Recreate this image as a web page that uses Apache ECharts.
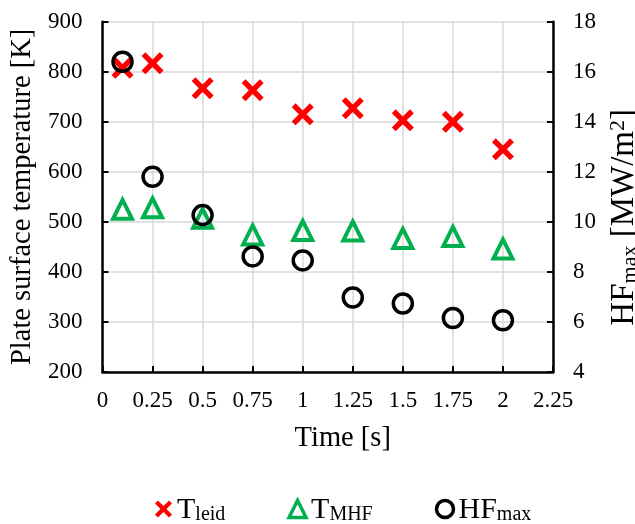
<!DOCTYPE html>
<html>
<head>
<meta charset="utf-8">
<script src="https://cdn.jsdelivr.net/npm/echarts@6/dist/echarts.min.js"></script>
<style>
  html, body { margin: 0; padding: 0; background: #fff; }
  #chart { width: 635px; height: 524px; }
</style>
</head>
<body>
<div id="chart"></div>
<script>
// Measurement times [s]
const timeS = [0.1, 0.25, 0.5, 0.75, 1, 1.25, 1.5, 1.75, 2];
// Leidenfrost temperature [K]
const tLeid = [808, 817, 767, 763, 715, 727, 703, 700, 645];
// Temperature at maximum heat flux [K]
const tMhf = [525, 528, 507, 474, 483, 482, 467, 471, 446];
// Maximum heat flux [MW/m2]
const hfMax = [16.4, 11.8, 10.27, 8.62, 8.46, 6.98, 6.74, 6.16, 6.07];

const pairs = (xs, ys) => xs.map((x, i) => [x, ys[i]]);

const FONT = '"Liberation Serif", "Times New Roman", serif';
const CROSS = 'path://M0,3.5 L3.5,0 L10,6.5 L16.5,0 L20,3.5 L13.5,10 L20,16.5 L16.5,20 L10,13.5 L3.5,20 L0,16.5 L6.5,10 Z';
const RED = '#ff0000', GREEN = '#00b050', BLACK = '#000000';

const axisLine = { show: true, lineStyle: { color: BLACK, width: 2.5 } };
const axisTick = { show: true, inside: true, length: 6, lineStyle: { color: BLACK, width: 2 } };
const tickFont = { fontFamily: FONT, fontSize: 23, color: BLACK };
const grid = { show: true, lineStyle: { color: '#d9d9d9', width: 1.5 } };

const chart = echarts.init(document.getElementById('chart'), null, { renderer: 'canvas' });

chart.setOption({
  backgroundColor: '#ffffff',
  animation: false,
  grid: { left: 102.5, right: 82, top: 21.7, bottom: 152, containLabel: false, outerBoundsMode: 'none' },
  xAxis: {
    type: 'value', min: 0, max: 2.25, interval: 0.25,
    name: 'Time [s]', nameLocation: 'middle', nameGap: 52,
    nameTextStyle: { fontFamily: FONT, fontSize: 28.5, color: BLACK, padding: [0, 0, 0, 30] },
    axisLine, axisTick,
    axisLabel: Object.assign({ margin: 17 }, tickFont),
    splitLine: grid
  },
  yAxis: [
    {
      type: 'value', min: 200, max: 900, interval: 100, position: 'left',
      name: 'Plate surface temperature [K]', nameLocation: 'middle', nameGap: 64,
      nameTextStyle: { fontFamily: FONT, fontSize: 28.5, color: BLACK },
      axisLine, axisTick,
      axisLabel: Object.assign({ margin: 20 }, tickFont),
      splitLine: grid
    },
    {
      type: 'value', min: 4, max: 18, interval: 2, position: 'right',
      name: '{m|HF}{s|max}{m| [MW/m}{p|2}{m|]}', nameLocation: 'middle', nameGap: 52, nameRotate: 90,
      nameTextStyle: {
        fontFamily: FONT, fontSize: 33, color: BLACK, padding: [0, 41, 0, 0],
        rich: {
          m: { fontFamily: FONT, fontSize: 33, color: BLACK, lineHeight: 34, verticalAlign: 'bottom' },
          s: { fontFamily: FONT, fontSize: 22, color: BLACK, lineHeight: 8, verticalAlign: 'bottom' },
          p: { fontFamily: FONT, fontSize: 22, color: BLACK, lineHeight: 12, verticalAlign: 'top' }
        }
      },
      axisLine, axisTick,
      axisLabel: Object.assign({ margin: 20 }, tickFont),
      splitLine: { show: false }
    }
  ],
  legend: {
    top: 490, left: 150, itemGap: 62, itemWidth: 17, itemHeight: 17,
    textStyle: {
      fontFamily: FONT, fontSize: 30, color: BLACK,
      rich: {
        m: { fontFamily: FONT, fontSize: 30, color: BLACK, lineHeight: 32, verticalAlign: 'bottom' },
        s: { fontFamily: FONT, fontSize: 20, color: BLACK, lineHeight: 8, verticalAlign: 'bottom' }
      }
    },
    formatter: (name) => ({
      'T_leid': '{m|T}{s|leid}',
      'T_MHF': '{m|T}{s|MHF}',
      'HF_max': '{m|HF}{s|max}'
    })[name],
    data: [
      { name: 'T_leid', icon: CROSS, itemStyle: { color: RED, borderWidth: 0 } },
      { name: 'T_MHF', icon: 'triangle', itemStyle: { color: 'rgba(0,0,0,0)', borderColor: GREEN, borderWidth: 3.5 } },
      { name: 'HF_max', icon: 'circle', itemStyle: { color: 'rgba(0,0,0,0)', borderColor: BLACK, borderWidth: 3.5 } }
    ]
  },
  series: [
    {
      name: 'T_leid', type: 'scatter', yAxisIndex: 0,
      symbol: CROSS, symbolSize: 22,
      itemStyle: { color: RED, opacity: 1 },
      data: pairs(timeS, tLeid)
    },
    {
      name: 'T_MHF', type: 'scatter', yAxisIndex: 0,
      symbol: 'triangle', symbolSize: 19,
      itemStyle: { color: 'rgba(0,0,0,0)', borderColor: GREEN, borderWidth: 4, opacity: 1 },
      data: pairs(timeS, tMhf)
    },
    {
      name: 'HF_max', type: 'scatter', yAxisIndex: 1,
      symbol: 'circle', symbolSize: 19,
      itemStyle: { color: 'rgba(0,0,0,0)', borderColor: BLACK, borderWidth: 3.5, opacity: 1 },
      data: pairs(timeS, hfMax)
    }
  ]
});
</script>
</body>
</html>
